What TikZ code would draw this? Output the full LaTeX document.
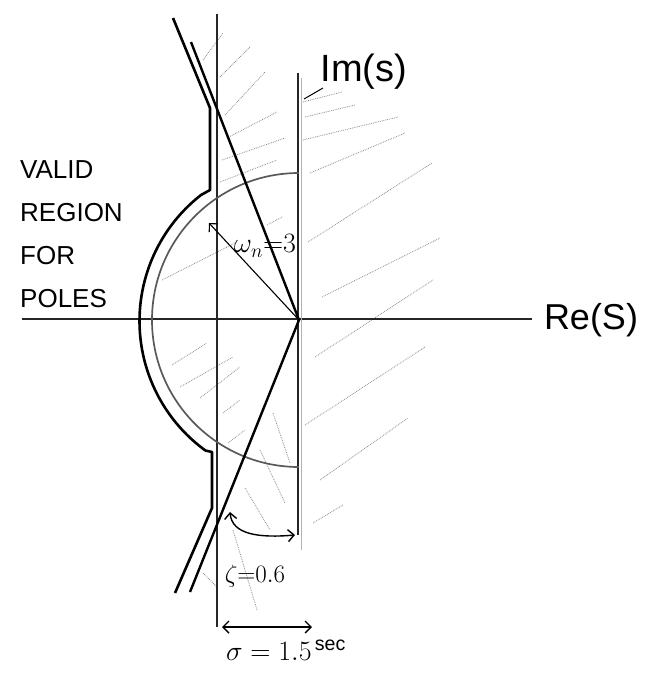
\RequirePackage{fix-cm}
\documentclass[tikz,border=0pt]{standalone}
\usepackage{amsmath}
\usepackage{fontspec}
\setmainfont{Liberation Sans}
\usepackage{tikz}
\usetikzlibrary{arrows,arrows.meta,calc}

\begin{document}
\begin{tikzpicture}[
    x=1pt, y=-1pt,
    every node/.style={align=center, inner sep=0pt},
    axis/.style={line width=1.6pt, black!85},
    boundary/.style={line width=2.6pt, black, line join=round},
    zetaline/.style={line width=2.4pt, black},
    circ/.style={line width=1.7pt, black!65},
    hatch/.style={line width=0.8pt, black!45, densely dotted},
    arrow/.style={line width=1.4pt, >={Straight Barb[length=6pt,width=12pt]}}
]
\useasboundingbox (0,0) rectangle (653,686);

% Origin of the s-plane
\coordinate (origin) at (299,320);

% Hatching of the excluded region
\foreach \xa/\ya/\xb/\yb in {303/102/342/92, 305/117/355/105, 303/140/398/117, 310/173/405/133,
    308/242/432/163, 322/297/440/238, 315/357/433/280, 305/425/425/347, 320/480/408/418, 313/523/343/505,
    203/60/223/33, 220/77/250/47, 225/115/265/72, 227/138/277/112, 222/160/285/138, 220/182/277/160,
    162/280/235/243, 172/365/207/343, 180/387/233/357, 200/398/240/367, 267/225/282/217,
    223/413/240/400, 228/443/245/430, 203/573/217/587}
    \draw[hatch] (\xa,\ya) -- (\xb,\yb);
\foreach \xa/\ya/\xb/\yb in {273/413/290/463, 260/450/285/503, 245/488/270/530, 233/530/257/610}
    \draw[hatch] (\xa,\ya) -- (\xb,\yb);

% Axes
\draw[axis] (22,319) -- (532,319);
\draw[axis] (298,73) -- (298,535);
\draw[line width=1.2pt, gray!60] (301.5,78) -- (301.5,550);
\draw[axis] (217,14) -- (217,627);

% Natural frequency circle
\draw[circ] (299,467) arc[start angle=90, end angle=270, radius=147];

% Damping ratio lines
\draw[zetaline] (191,42) -- (origin) -- (190,592);

% Boundary of the valid region
\draw[boundary] (173,18) -- (210,108) -- (210,190) -- (201,195)
    arc[start angle=232, end angle=126, radius=160] -- (212,452) -- (212,508) -- (175,593);

% Radius arrow
\draw[arrow, ->, line width=1.1pt] (origin) -- (209,223);

% Angle arrow
\draw[arrow, <->] (230,512) .. controls (232,535) and (260,538) .. (295,535);

% Offset arrow
\draw[arrow, <->] (222,627) -- (312,627);

% Labels
\node[font=\fontsize{38}{40}\selectfont] (imlabel) at (364,72) {Im(s)};
\draw[line width=1pt] (323,88) -- (304,99);
\node[font=\fontsize{36}{40}\selectfont] (relabel) at (591,320) {Re(S)};
\node[anchor=north west, align=left, font=\fontsize{26}{43}\selectfont] (validlabel) at (20,160) {VALID\\REGION\\FOR\\POLES};
\node[font=\fontsize{28}{30}\selectfont] (wnlabel) at (265,246) {$\omega_n{=}3$};
\node[font=\fontsize{25}{27}\selectfont] (zetalabel) at (255,576) {$\zeta{=}0.6$};
\node[font=\fontsize{28}{30}\selectfont] (sigmalabel) at (286,650) {$\sigma = 1.5^{\,\mathrm{sec}}$};

\end{tikzpicture}
\end{document}
